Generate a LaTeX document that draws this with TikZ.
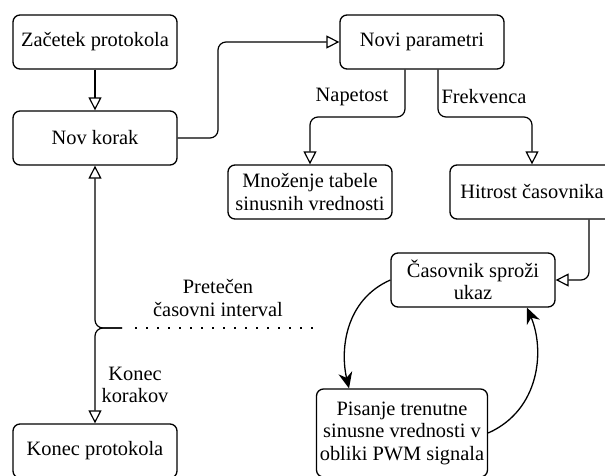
\documentclass[tikz,border=0pt]{standalone}
\usepackage{fontspec}
\setmainfont{Liberation Serif}
\usetikzlibrary{positioning, arrows.meta, calc}

\tikzset{
  box/.style={draw, line width=1.3pt, rounded corners=7pt, minimum width=164pt, minimum height=54pt, align=center, inner sep=2pt},
  lbl/.style={align=center, inner sep=1pt},
  flow/.style={line width=1.2pt, rounded corners=8pt, -{Triangle[open, length=13pt, width=13pt]}},
  loop/.style={line width=1.3pt, -{Stealth[length=16pt, width=14pt]}},
}

\begin{document}
\begin{tikzpicture}[x=1pt, y=-1pt, font=\fontsize{20.4}{22.5}\selectfont]
\useasboundingbox (0,0) rectangle (605,476);
\clip (0,0) rectangle (605,476);
% boxes
\node[box] (start) at (95,42) {Začetek protokola};
\node[box] (korak) at (95,138) {Nov korak};
\node[box] (param) at (422,42) {Novi parametri};
\node[box] (mnoz) at (310,192) {Množenje tabele\\sinusnih vrednosti};
\node[box] (hitrost) at (532,192) {Hitrost časovnika};
\node[box] (casov) at (473,280) {Časovnik sproži\\ukaz};
\node[box, minimum width=171pt, minimum height=88pt] (pisanje) at (402,433) {Pisanje trenutne\\sinusne vrednosti v\\obliki PWM signala};
\node[box] (konec) at (95,451) {Konec protokola};
% connectors
\draw[flow] (start.south) -- (korak.north);
\draw[flow] (korak.east) -- (218,138) |- (param.west);
\draw[flow] ($(param.south)+(-17,0)$) |- (310,117) -- (mnoz.north);
\draw[flow] ($(param.south)+(16,0)$) |- (532,117) -- (hitrost.north);
\draw[flow] ($(hitrost.south)+(57,0)$) |- (casov.east);
\draw[loop] (casov.west) .. controls (345,300) and (340,350) .. ($(pisanje.north)+(-53,0)$);
\draw[loop] (pisanje.east) .. controls (540,410) and (545,350) .. ($(casov.south)+(54,0)$);
% step end / timeout
\coordinate (jn) at (122,328);
\draw[flow] (jn) -| (korak.south);
\draw[flow] (jn) -| (konec.north);
\coordinate (dotA) at (135,328);
\coordinate (dotB) at (313,328);
\draw[line width=2pt, dash pattern=on 2pt off 9pt] (dotA) -- (dotB);
\node[lbl] (napetost) at (352,97) {Napetost};
\node[lbl] (frekvenca) at (484,97) {Frekvenca};
\node[lbl] (pretecen) at (218,298) {Pretečen\\časovni interval};
\node[lbl] (konkor) at (135,385) {Konec\\korakov};
\end{tikzpicture}
\end{document}
